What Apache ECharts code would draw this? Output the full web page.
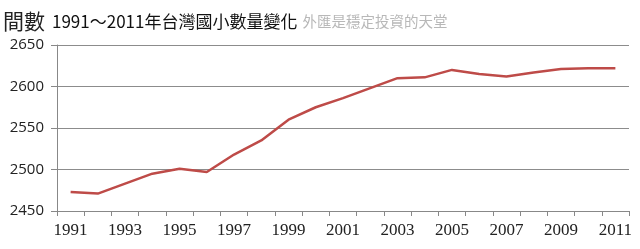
<!DOCTYPE html>
<html><head><meta charset="utf-8">
<script src="https://cdn.jsdelivr.net/npm/echarts@6/dist/echarts.min.js"></script>
<style>html,body{margin:0;padding:0;background:#fff}#c{width:640px;height:249px}</style>
</head><body><div id="c"></div>
<script>
const years = ['1991','1992','1993','1994','1995','1996','1997','1998','1999','2000','2001','2002','2003','2004','2005','2006','2007','2008','2009','2010','2011'];
const schools = [2473,2471,2483,2495,2501,2497,2518,2535,2560,2575,2586,2598,2610,2611,2620,2615,2612,2617,2621,2622,2622];
const yMin = 2450, yMax = 2650, yStep = 50;
const titleUnit = '間數';
const titleMain = '1991～2011年台灣國小數量變化';
const titleSub = '外匯是穩定投資的天堂';

const chart = echarts.init(document.getElementById('c'), null, {renderer:'canvas'});
chart.setOption({
  animation:false,
  backgroundColor:'#fff',
  title:{
    left:3, top:11, padding:0,
    text:'{a|'+titleUnit+'}{b|'+titleMain+'}{c|'+titleSub+'}',
    textStyle:{
      fontWeight:'normal',
      rich:{
        a:{fontFamily:'Noto Sans CJK TC',fontWeight:'normal',fontSize:21,color:'#222',padding:[0,7,0,0]},
        b:{fontFamily:'Noto Sans CJK TC',fontWeight:'normal',fontSize:17,color:'#111',padding:[0,5,0,0]},
        c:{fontFamily:'Noto Sans CJK TC',fontWeight:'normal',fontSize:14.5,color:'#b8b8b8'}
      }
    }
  },
  grid:{left:57,right:11,top:45,bottom:38},
  xAxis:{
    type:'category', data:years, boundaryGap:true,
    axisLine:{lineStyle:{color:'#888',width:1}},
    axisTick:{show:true,length:5,alignWithLabel:false,interval:0,lineStyle:{color:'#888'}},
    axisLabel:{interval:1,margin:11,fontFamily:'Liberation Serif',fontSize:17,color:'#222'},
    splitLine:{show:false}
  },
  yAxis:{
    type:'value', min:yMin, max:yMax, interval:yStep,
    axisLine:{show:true,lineStyle:{color:'#888',width:1}},
    axisTick:{show:true,length:6,lineStyle:{color:'#888'}},
    axisLabel:{margin:13,fontFamily:'Open Sans',fontSize:15,color:'#222',formatter:function(v){return String(v);}},
    splitLine:{show:true,lineStyle:{color:'#8c8c8c',width:1}}
  },
  series:[{
    type:'line', data:schools, symbol:'none',
    lineStyle:{color:'#be4b48',width:2.5}
  }]
});
</script></body></html>
